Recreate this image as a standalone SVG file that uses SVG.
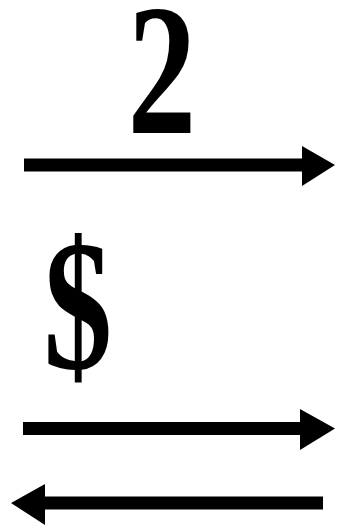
<svg xmlns="http://www.w3.org/2000/svg" width="338" height="530" viewBox="0 0 338 530">
<style>
.t{font-family:"Liberation Serif","Times New Roman",serif;font-weight:bold;font-size:186px;fill:#000;text-anchor:middle}
.ln{stroke:#000;stroke-width:13;fill:none}
.hd{fill:#000}
</style>
<rect width="338" height="530" fill="#fff"/>
<g id="label-2"><text class="t" transform="translate(162,133) scale(0.74,1)">2</text></g>
<g id="label-dollar"><text class="t" transform="translate(78,368) scale(0.74,1)">$</text></g>
<g id="connectors">
<line class="ln" x1="24" y1="165" x2="304" y2="165"/>
<polygon class="hd" points="302,146 335,165 302,186"/>
<line class="ln" x1="23" y1="428.5" x2="302" y2="428.5"/>
<polygon class="hd" points="300,409 335,428.5 300,450"/>
<line class="ln" x1="323" y1="503" x2="43" y2="503"/>
<polygon class="hd" points="45,484 11,503 45,525"/>
</g>
</svg>
